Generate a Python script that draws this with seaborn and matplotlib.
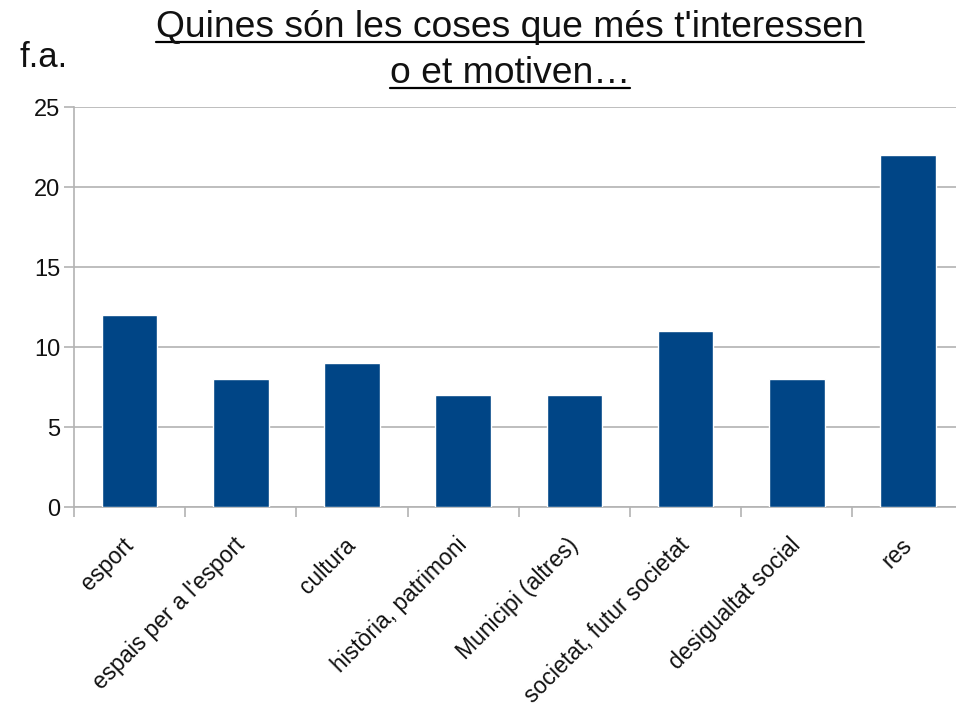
"""
Bar chart: Quines són les coses que més t'interessen o et motiven...
"""

import matplotlib
matplotlib.use('Agg')
import matplotlib.pyplot as plt
import numpy as np
import pandas as pd
import seaborn as sns
from matplotlib.lines import Line2D

categories = [
    'esport',
    "espais per a l'esport",
    'cultura',
    'història, patrimoni',
    'Municipi (altres)',
    'societat, futur societat',
    'desigualtat social',
    'res',
]
counts = [12, 8, 9, 7, 7, 11, 8, 22]
y_ticks = [0, 5, 10, 15, 20, 25]
title_lines = ["Quines són les coses que més t'interessen", 'o et motiven…']
y_label = 'f.a.'

BAR_COLOR = '#004586'
GRID_COLOR = '#b3b3b3'
TEXT_COLOR = '#111111'


def underline(fig, text, offset_px=5, lw=1.6):
    """Draw a line under a text object (matplotlib has no underline)."""
    renderer = fig.canvas.get_renderer()
    bb = text.get_window_extent(renderer=renderer)
    W, H = fig.bbox.width, fig.bbox.height
    # baseline sits a bit above the bbox bottom because of descenders
    y = (bb.y0 + text.get_fontsize() * 0.21 * fig.dpi / 72 - offset_px) / H
    fig.add_artist(Line2D([bb.x0 / W, bb.x1 / W], [y, y],
                          color='black', lw=lw, transform=fig.transFigure))


sns.set_theme(style='white')
plt.rcParams['font.family'] = ['Liberation Sans', 'DejaVu Sans']
plt.rcParams['text.color'] = TEXT_COLOR
plt.rcParams['xtick.labelcolor'] = TEXT_COLOR
plt.rcParams['ytick.labelcolor'] = TEXT_COLOR

df = pd.DataFrame({'category': categories, 'count': counts})

fig = plt.figure(figsize=(9.56, 7.16), dpi=100)
# plot area runs slightly past the right edge of the image, as in the original
ax = fig.add_axes([74 / 956, 1 - 507 / 716, 8 * 111.2 / 956, 400 / 716])

sns.barplot(data=df, x='category', y='count', color=BAR_COLOR,
            width=0.5, saturation=1, ax=ax, zorder=3)

ax.set_ylim(0, 25)
ax.set_xlim(-0.5, len(categories) - 0.5)
ax.set_yticks(y_ticks)
ax.yaxis.grid(True, color=GRID_COLOR, lw=1.2, zorder=0)
ax.set_axisbelow(True)

# label anchors sit a little left of the bar centres (invisible ticks)
ax.set_xticks(np.arange(len(categories)) - 0.07)
ax.set_xticklabels(categories, rotation=45, ha='right',
                   rotation_mode='anchor', fontsize=16.5)
ax.set_xticks(np.arange(-0.5, len(categories)), minor=True)
ax.tick_params(axis='x', which='major', length=0, pad=19)
ax.tick_params(axis='x', which='minor', length=7, width=1.2,
               color=GRID_COLOR, bottom=True)
ax.tick_params(axis='y', length=7, width=1.2, color=GRID_COLOR,
               labelsize=17, pad=3, left=True)

for side in ['top', 'right']:
    ax.spines[side].set_visible(False)
for side in ['left', 'bottom']:
    ax.spines[side].set_color(GRID_COLOR)
    ax.spines[side].set_linewidth(1.2)

ax.set_xlabel('')
ax.set_ylabel('')

t1 = fig.text(510 / 956, 1 - 37 / 716, title_lines[0], ha='center',
              va='baseline', fontsize=26.8)
t2 = fig.text(510 / 956, 1 - 83 / 716, title_lines[1], ha='center',
              va='baseline', fontsize=26.8)
fig.text(20 / 956, 1 - 67 / 716, y_label, ha='left', va='baseline',
         fontsize=25)

fig.canvas.draw()
underline(fig, t1)
underline(fig, t2)

fig.savefig('out.png', dpi=100)
